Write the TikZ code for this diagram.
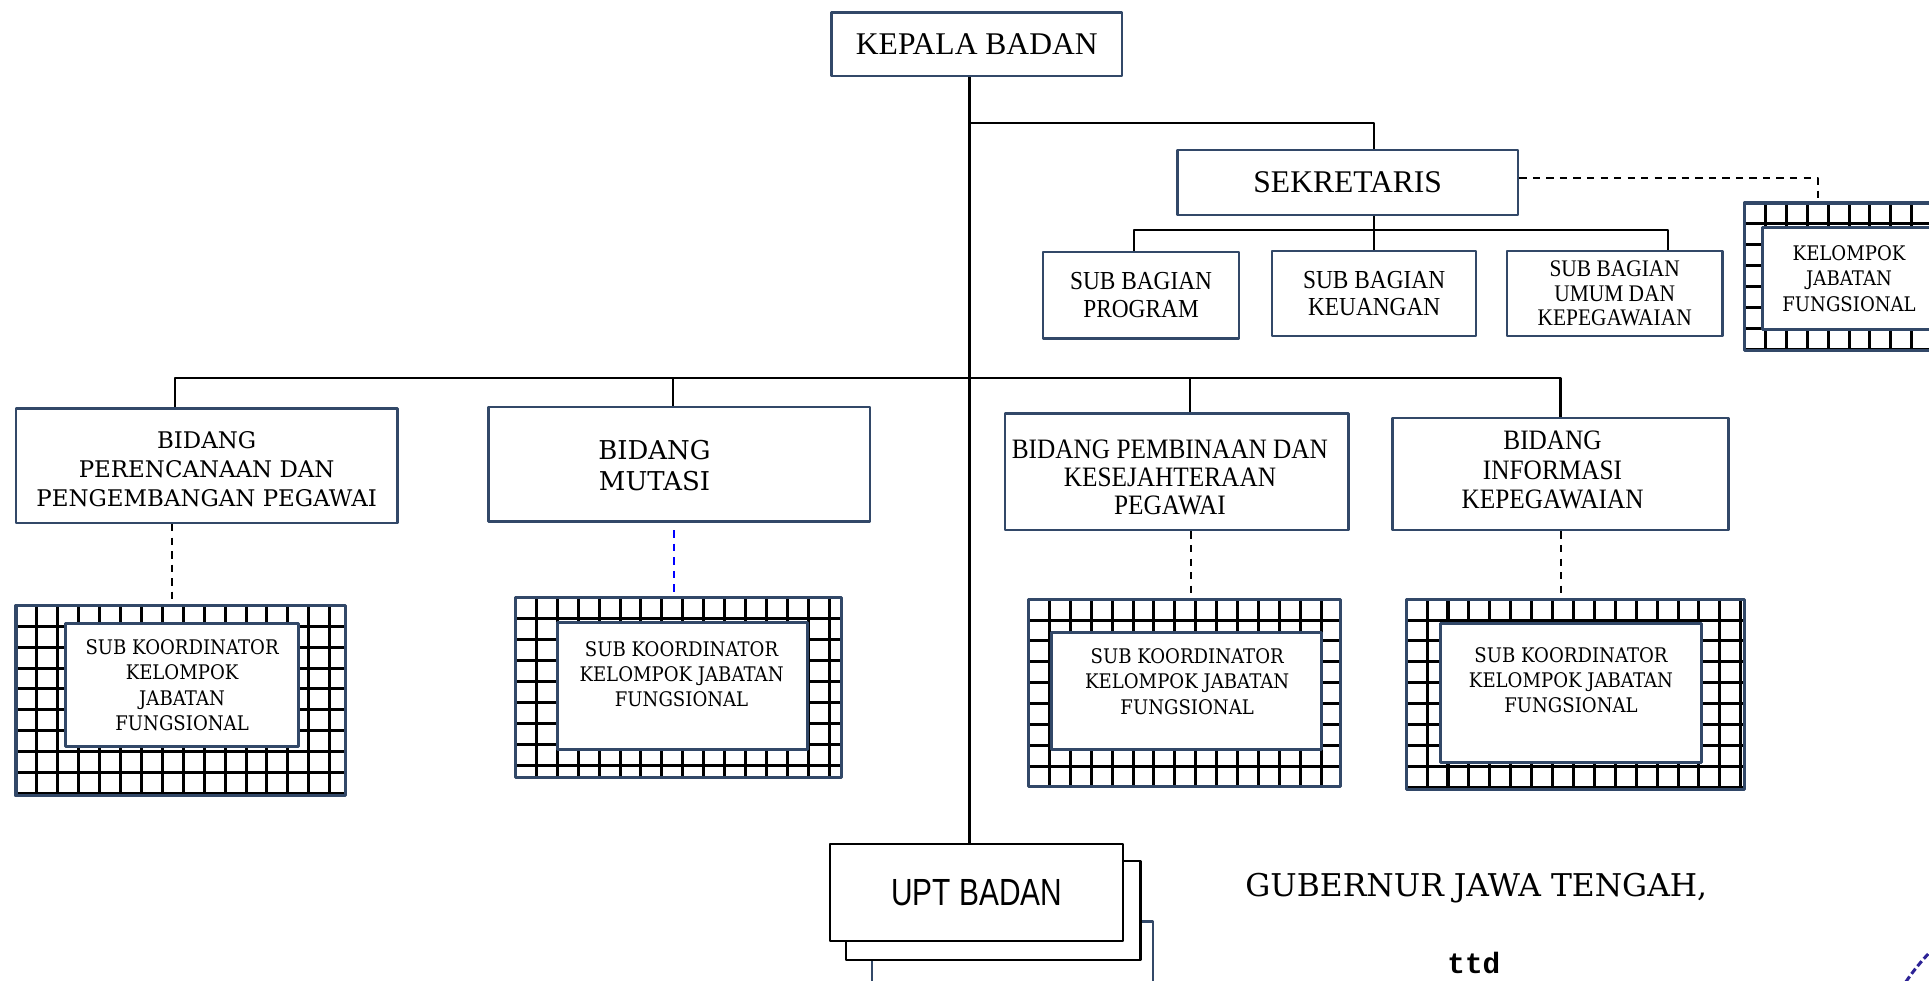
\documentclass[tikz,border=0pt]{standalone}
\usepackage{fontspec}
\setmainfont{Liberation Serif}
\newfontfamily\narrowserif[FakeStretch=0.9]{Liberation Serif}
\newfontfamily\bidangserif[FakeStretch=0.9]{Liberation Serif}
\newfontfamily\bookserif{DejaVu Serif}
\newfontfamily\koorserif[FakeStretch=0.9]{DejaVu Serif}
\newfontfamily\uptsans[FakeStretch=0.79]{Liberation Sans}
\newfontfamily\ttdmono{Liberation Mono}
\newcommand{\fsz}[2]{\fontsize{#1}{#2}\selectfont}
\definecolor{boxblue}{RGB}{50,72,104}
\definecolor{stampblue}{RGB}{45,35,150}
\tikzset{
  unit/.style={draw=boxblue, line width=1.1pt, fill=white, align=center, inner sep=0pt},
  koorbox/.style={draw=boxblue, line width=1.4pt, fill=white, align=center, inner sep=0pt},
  uptbox/.style={draw=black, line width=1pt, fill=white, minimum width=47.6mm, minimum height=15.8mm},
  gridbox/.style={draw=boxblue, line width=1.4pt, fill=white, inner sep=0pt, path picture={
      \foreach \k in {1,...,20}{
        \draw[black, line width=1.4pt] ([xshift=\k*3.4mm]path picture bounding box.north west) -- ([xshift=\k*3.4mm]path picture bounding box.south west);
        \draw[black, line width=1.4pt] ([yshift=-\k*3.4mm]path picture bounding box.north west) -- ([yshift=-\k*3.4mm]path picture bounding box.north east);
      }}},
  link/.style={black, line width=1pt},
  dashlink/.style={black, line width=0.9pt, dash pattern=on 1.2mm off 1mm},
}
\begin{document}
\begin{tikzpicture}[x=0.2mm, y=-0.2mm, line join=round]
	\clip (0,0) rectangle (1568,797);
	\fill[white] (0,0) rectangle (1568,797);
	% pimpinan
	\node[unit, minimum width=47.2mm, minimum height=10.4mm, font=\fsz{14.6}{17}] (kepala) at (794,36) {KEPALA BADAN};
	\node[unit, minimum width=55.4mm, minimum height=10.6mm, font=\fsz{14.6}{17}] (sekretaris) at (1095.5,148.5) {SEKRETARIS};
	% sub bagian
	\node[unit, minimum width=31.8mm, minimum height=14mm, font=\narrowserif\fsz{12}{13.1}] (program) at (927.5,240) {SUB BAGIAN\\PROGRAM};
	\node[unit, minimum width=33.2mm, minimum height=13.8mm, font=\narrowserif\fsz{12}{12.5}] (keuangan) at (1117,238.5) {SUB BAGIAN\\KEUANGAN};
	\node[unit, minimum width=35mm, minimum height=13.8mm, font=\narrowserif\fsz{11}{11.4}] (umum) at (1312.5,238.5) {SUB BAGIAN\\UMUM DAN\\KEPEGAWAIAN};
	\node[gridbox, minimum width=34mm, minimum height=24mm] (kjfgrid) at (1503,225) {};
	\node[koorbox, minimum width=28mm, minimum height=16.6mm, font=\koorserif\fsz{9.3}{11.7}] (kjf) at (1503,226.5) {KELOMPOK\\JABATAN\\FUNGSIONAL};
	% bidang
	\node[unit, minimum width=62mm, minimum height=18.6mm, font=\bookserif\fsz{10.6}{13.4}] (perencanaan) at (168,378.5) {};
	\node[align=center, font=\bookserif\fsz{10.6}{13.4}] (perencanaantext) at (168,381.5) {BIDANG\\PERENCANAAN DAN\\PENGEMBANGAN PEGAWAI};
	\node[unit, minimum width=62mm, minimum height=18.6mm] (mutasi) at (552,377.5) {};
	\node[align=center, font=\bookserif\fsz{12}{14.2}] (mutasitext) at (532,378.5) {BIDANG\\MUTASI};
	\node[unit, minimum width=55.8mm, minimum height=19mm] (pembinaan) at (956.5,383.5) {};
	\node[align=center, font=\bidangserif\fsz{13}{13.1}] (pembinaantext) at (951,388) {BIDANG PEMBINAAN DAN\\KESEJAHTERAAN\\PEGAWAI};
	\node[unit, minimum width=54.6mm, minimum height=18.2mm] (informasi) at (1268.5,385.5) {};
	\node[align=center, font=\bidangserif\fsz{13}{13.7}] (informasitext) at (1262,382) {BIDANG\\INFORMASI\\KEPEGAWAIAN};
	% sub koordinator
	\node[gridbox, minimum width=53.6mm, minimum height=31mm] (gridA) at (147,569.5) {};
	\node[koorbox, minimum width=38mm, minimum height=20mm, font=\koorserif\fsz{9.3}{11.7}] (koorA) at (148,557) {SUB KOORDINATOR\\KELOMPOK\\JABATAN\\FUNGSIONAL};
	\node[gridbox, minimum width=53mm, minimum height=29.2mm] (gridB) at (551.5,559) {};
	\node[koorbox, minimum width=40.6mm, minimum height=20.6mm] (koorB) at (554.5,557.5) {};
	\node[align=center, font=\koorserif\fsz{9.3}{11.7}] (koorBtext) at (554,548) {SUB KOORDINATOR\\KELOMPOK JABATAN\\FUNGSIONAL};
	\node[gridbox, minimum width=50.8mm, minimum height=30.4mm] (gridC) at (963,563) {};
	\node[koorbox, minimum width=43.8mm, minimum height=19mm] (koorC) at (964.5,561.5) {};
	\node[align=center, font=\koorserif\fsz{9.3}{11.7}] (koorCtext) at (965,554) {SUB KOORDINATOR\\KELOMPOK JABATAN\\FUNGSIONAL};
	\node[gridbox, minimum width=55mm, minimum height=31mm] (gridD) at (1280.5,564.5) {};
	\node[koorbox, minimum width=42.4mm, minimum height=22.6mm] (koorD) at (1277,563) {};
	\node[align=center, font=\koorserif\fsz{9.3}{11.7}] (koorDtext) at (1277,553) {SUB KOORDINATOR\\KELOMPOK JABATAN\\FUNGSIONAL};
	% upt
	\node[uptbox, draw=boxblue, minimum width=45.6mm, minimum height=16mm] (upt3) at (823,789) {};
	\node[uptbox, minimum width=47.8mm, minimum height=16mm] (upt2) at (807.5,740) {};
	\node[uptbox, font=\uptsans\fsz{17.5}{20}] (upt) at (794,725.5) {UPT BADAN};
	% pengesahan
	\node[font=\bookserif\fsz{14.5}{17}] (gubernur) at (1200,722) {GUBERNUR JAWA TENGAH,};
	\node[font=\ttdmono\bfseries\fsz{13.6}{16}] (ttd) at (1198,783) {ttd};
	\draw[stampblue, line width=1.4pt, dash pattern=on 3pt off 1.5pt] (1700,900) circle (182);
	% garis
	\coordinate (split) at (788,100);
	\coordinate (sekbar) at (1117,187);
	\coordinate (bar) at (788,307);
	\draw[link] (kepala.south -| split) -- (upt.north -| split);
	\draw[link] (split) -| (sekretaris.north -| sekbar);
	\draw[link] (sekretaris.south -| sekbar) -- (keuangan.north);
	\draw[link] ([xshift=-1.1mm]program.north) |- ([xshift=8.7mm]umum.north |- sekbar) -- ([xshift=8.7mm]umum.north);
	\draw[link] ([xshift=-5.2mm]perencanaan.north) |- (informasi.north |- bar) -- (informasi.north);
	\draw[link] ([xshift=-1mm]mutasi.north) -- ([xshift=-1mm]mutasi.north |- bar);
	\draw[link] ([xshift=2.1mm]pembinaan.north) -- ([xshift=2.1mm]pembinaan.north |- bar);
	\draw[dashlink] ([yshift=0.7mm]sekretaris.east) -| ([xshift=-5mm]kjfgrid.north);
	\draw[dashlink] ([xshift=-5.6mm]perencanaan.south) -- ([xshift=-5.6mm]perencanaan.south |- gridA.north);
	\draw[dashlink, blue] ([xshift=-0.8mm,yshift=-1.2mm]mutasi.south) -- ([xshift=-0.8mm]mutasi.south |- gridB.north);
	\draw[dashlink] ([xshift=2.3mm]pembinaan.south) -- ([xshift=2.3mm]pembinaan.south |- gridC.north);
	\draw[dashlink] (informasi.south) -- (informasi.south |- gridD.north);
\end{tikzpicture}
\end{document}
